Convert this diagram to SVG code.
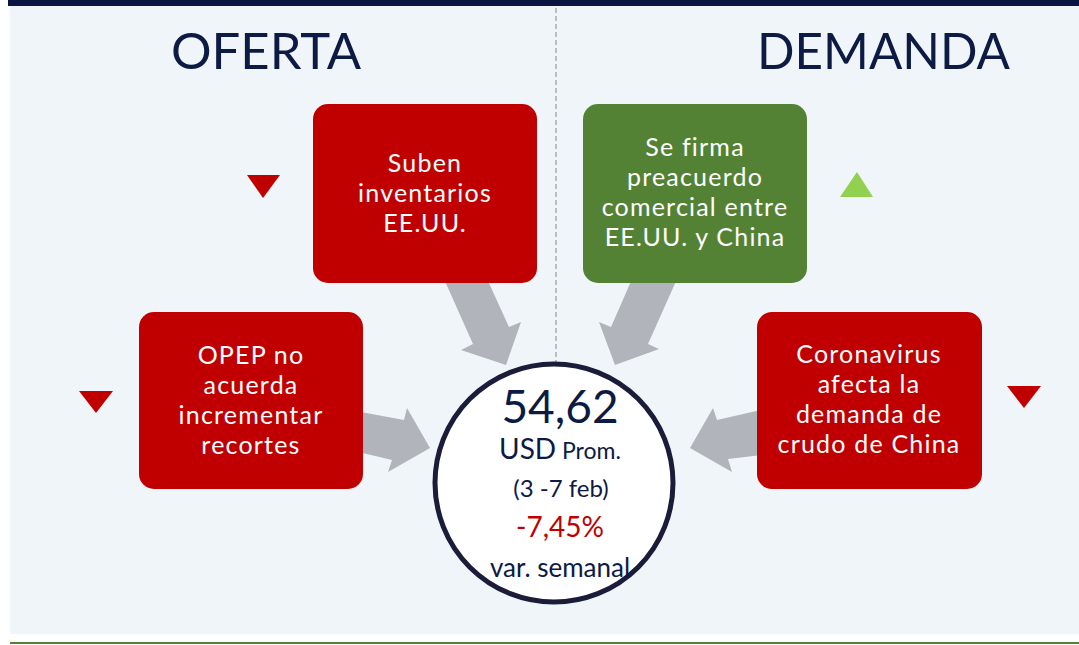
<svg xmlns="http://www.w3.org/2000/svg" width="1079" height="645" viewBox="0 0 1079 645">
<style>
.title{font-family:Lato,"Liberation Sans",sans-serif;font-size:50px;fill:#0C1A44}
.box{stroke:none}
.red{fill:#C00000}
.green{fill:#548235}
.bt{font-family:Lato,"Liberation Sans",sans-serif;font-size:25px;letter-spacing:1.2px;fill:#FFFFFF;text-anchor:middle}
.arrow{fill:#B1B4BA}
.ct{font-family:Lato,"Liberation Sans",sans-serif;fill:#0C1A44;text-anchor:middle}
</style>
<rect x="0" y="0" width="1079" height="645" fill="#FFFFFF"/>
<rect x="10" y="5" width="1069" height="629" fill="#F0F5FA"/>
<rect x="8" y="0" width="1071" height="6" fill="#0A1440"/>
<line x1="10" y1="643" x2="1079" y2="643" stroke="#548235" stroke-width="2"/>
<line x1="556" y1="8" x2="556" y2="365" stroke="#A0A0A0" stroke-width="1.3" stroke-dasharray="5,3"/>
<text class="title" x="171" y="69" textLength="190" lengthAdjust="spacingAndGlyphs">OFERTA</text>
<text class="title" x="757" y="69" textLength="253" lengthAdjust="spacingAndGlyphs">DEMANDA</text>
<g id="connectors">
<polygon class="arrow" points="440,270 483,270 509,327 521,322 506,365 461,350 473,344"/>
<polygon class="arrow" points="636,270 681,270 648,344 659,349 615,365 599,322 611,327"/>
<polygon class="arrow" points="350,410 404,420 407,408 430,448 388,472 392,460 350,450"/>
<polygon class="arrow" points="770,408 717,420 713,408 690,448 732,472 728,459 770,454"/>
</g>
<g id="node-suben">
<rect class="box red" x="313" y="104" width="224" height="179" rx="15"/>
<text class="bt" x="425" y="172">Suben</text>
<text class="bt" x="425" y="202">inventarios</text>
<text class="bt" x="425" y="232">EE.UU.</text>
<polygon class="red" points="247,175 280,175 263,198"/>
</g>
<g id="node-firma">
<rect class="box green" x="583" y="104" width="224" height="179" rx="15"/>
<text class="bt" x="695" y="156">Se firma</text>
<text class="bt" x="695" y="186">preacuerdo</text>
<text class="bt" x="695" y="216">comercial entre</text>
<text class="bt" x="695" y="246">EE.UU. y China</text>
<polygon fill="#92D050" points="840,197 873,197 857,172"/>
</g>
<g id="node-opep">
<rect class="box red" x="139" y="312" width="224" height="177" rx="15"/>
<text class="bt" x="251" y="364">OPEP no</text>
<text class="bt" x="251" y="394">acuerda</text>
<text class="bt" x="251" y="424">incrementar</text>
<text class="bt" x="251" y="454">recortes</text>
<polygon class="red" points="79,391 113,391 96,413"/>
</g>
<g id="node-corona">
<rect class="box red" x="757" y="312" width="225" height="177" rx="15"/>
<text class="bt" x="869" y="363">Coronavirus</text>
<text class="bt" x="869" y="393">afecta la</text>
<text class="bt" x="869" y="423">demanda de</text>
<text class="bt" x="869" y="453">crudo de China</text>
<polygon class="red" points="1007,386 1041,386 1024,408"/>
</g>
<g id="node-precio">
<circle cx="554" cy="483" r="119" fill="#FFFFFF" stroke="#1B1B3A" stroke-width="5"/>
<text class="ct" x="560" y="423" font-size="46">54,62</text>
<text class="ct" x="560" y="459"><tspan font-size="28">USD</tspan><tspan font-size="23"> Prom.</tspan></text>
<text class="ct" x="561" y="497" font-size="24">(3 -7 feb)</text>
<text class="ct" x="560" y="537" font-size="28" style="fill:#C00000">-7,45%</text>
<text class="ct" x="560" y="577" font-size="26">var. semanal</text>
</g>
</svg>
